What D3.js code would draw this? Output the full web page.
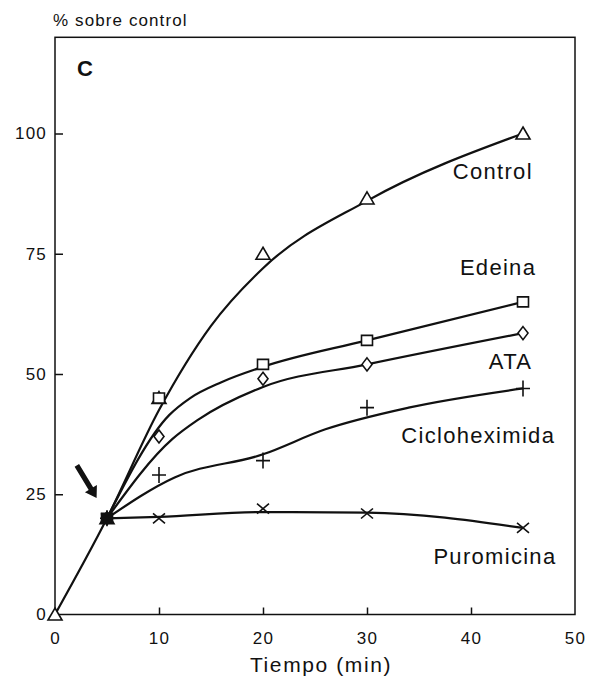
<!DOCTYPE html>
<html>
<head>
<meta charset="utf-8">
<script src="https://cdn.jsdelivr.net/npm/d3@7/dist/d3.min.js"></script>
<style>
  html, body { margin: 0; padding: 0; background: #fff; }
  svg { display: block; }
  text { font-family: "Liberation Sans", Arial, Helvetica, sans-serif; fill: #111; }
</style>
</head>
<body>
<svg id="chart" width="604" height="685"></svg>
<script>
// Tick values
const xTicks = [0, 10, 20, 30, 40, 50];
const yTicks = [0, 25, 50, 75, 100];

// Measured points (time in min, % of control)
const timeCtrl = [0, 5, 10, 20, 30, 45];
const control  = [0, 20, 45, 75, 86.5, 100];
const timeTrt  = [5, 10, 20, 30, 45];
const edeina   = [20, 45, 52, 57, 65];
const ata      = [20, 37, 49, 52, 58.5];
const ciclo    = [20, 29, 32, 43, 47];
const puro     = [20, 20, 22, 21, 18];

// Fitted curves drawn through each series
const fitControl = [[0, 0], [5, 20], [10, 42.5], [15, 60], [20, 72], [30, 86], [45, 100]];
const fitEdeina  = [[5, 20], [11, 41.5], [13, 45], [16, 48.3], [20, 51.5], [30, 57], [45, 65]];
const fitAta     = [[5, 20], [11.3, 36.5], [13.7, 40.4], [20, 47.3], [30, 52], [45, 58.5]];
const fitCiclo   = [[5, 20], [11.5, 28.5], [20, 33.3], [26, 38.5], [34, 43], [45, 47]];
const fitPuro    = [[5, 20], [10, 20.3], [20, 21.3], [30, 21.2], [45, 18]];

// Series names and where their names sit (data units)
const names  = ["Control", "Edeina", "ATA", "Cicloheximida", "Puromicina"];
const labelX = [42.1, 42.6, 43.8, 40.7, 42.3];
const labelY = [92.0, 72.2, 52.5, 37.3, 12.0];

const series = [
  { name: names[0], t: timeCtrl, v: control, fit: fitControl, sym: "triangle" },
  { name: names[1], t: timeTrt,  v: edeina,  fit: fitEdeina,  sym: "square" },
  { name: names[2], t: timeTrt,  v: ata,     fit: fitAta,     sym: "diamond" },
  { name: names[3], t: timeTrt,  v: ciclo,   fit: fitCiclo,   sym: "plus" },
  { name: names[4], t: timeTrt,  v: puro,    fit: fitPuro,    sym: "cross" }
];

const svg = d3.select("#chart");
const x = d3.scaleLinear().domain([0, 50]).range([55, 575]);
const y = d3.scaleLinear().domain([0, 120]).range([614.5, 37.3]);

// Frame
svg.append("rect")
  .attr("x", x(0)).attr("y", y(120))
  .attr("width", x(50) - x(0)).attr("height", y(0) - y(120))
  .attr("fill", "none").attr("stroke", "#111").attr("stroke-width", 1.5);

// Axes with inward ticks
const yAxis = d3.axisLeft(y).tickValues(yTicks).tickSize(-8).tickPadding(8)
  .tickFormat(d3.format("d"));
const gy = svg.append("g").attr("transform", `translate(${x(0)},0)`).call(yAxis);
gy.select(".domain").remove();
gy.selectAll(".tick line").attr("stroke", "#111").attr("stroke-width", 1.5)
  .filter(d => d === 0).remove();
gy.selectAll(".tick text").attr("font-size", 17).attr("letter-spacing", 1.2)
  .attr("font-family", "Liberation Sans, Arial, sans-serif").attr("fill", "#111");

const xAxis = d3.axisBottom(x).tickValues(xTicks).tickSize(-7).tickPadding(17)
  .tickFormat(d3.format("d"));
const gx = svg.append("g").attr("transform", `translate(0,${y(0)})`).call(xAxis);
gx.select(".domain").remove();
gx.selectAll(".tick line").attr("stroke", "#111").attr("stroke-width", 1.5)
  .filter(d => d === 0 || d === 50).remove();
gx.selectAll(".tick text").attr("font-size", 17).attr("letter-spacing", 1.2)
  .attr("font-family", "Liberation Sans, Arial, sans-serif").attr("fill", "#111");

// Axis titles
svg.append("text").attr("x", x(0) - 2).attr("y", 26)
  .attr("font-size", 17).attr("letter-spacing", 1.1)
  .text("% sobre control");
svg.append("text").attr("x", (x(0) + x(50)) / 2 + 6).attr("y", 672)
  .attr("text-anchor", "middle").attr("font-size", 21).attr("letter-spacing", 1.6)
  .text("Tiempo (min)");
svg.append("text").attr("x", 77).attr("y", 76)
  .attr("font-size", 22).attr("font-weight", "bold")
  .text("C");

// Fitted curves
const line = d3.line().x(d => x(d[0])).y(d => y(d[1])).curve(d3.curveMonotoneX);
svg.append("g").selectAll("path").data(series).join("path")
  .attr("d", s => line(s.fit))
  .attr("fill", "none").attr("stroke", "#111").attr("stroke-width", 2.2)
  .attr("stroke-linejoin", "round");

// Marker shapes
function symbolPath(sym) {
  switch (sym) {
    case "triangle": return "M0,-6.5L7,5.5L-7,5.5Z";
    case "square":   return "M-5.5,-5L5.5,-5L5.5,5L-5.5,5Z";
    case "diamond":  return "M0,-6.5L5,0L0,6.5L-5,0Z";
    case "plus":     return "M-7,0L7,0M0,-8L0,8";
    case "cross":    return "M-6,-5L6,5M-6,5L6,-5";
  }
}

const gm = svg.append("g");
series.forEach(s => {
  s.t.forEach((t, i) => {
    const shared = t === 5;  // common addition point, drawn solid
    gm.append("path")
      .attr("transform", `translate(${x(t)},${y(s.v[i])})`)
      .attr("d", symbolPath(s.sym))
      .attr("fill", shared ? "#111" : (s.sym === "plus" || s.sym === "cross" ? "none" : "#fff"))
      .attr("stroke", "#111").attr("stroke-width", 1.6);
  });
});

// Series names
svg.append("g").selectAll("text").data(names).join("text")
  .attr("x", (d, i) => x(labelX[i]))
  .attr("y", (d, i) => y(labelY[i]))
  .attr("text-anchor", "middle").attr("dominant-baseline", "central")
  .attr("font-size", 22).attr("letter-spacing", 1.3)
  .text(d => d);

// Arrow marking the time of addition
const arrowFrom = [2.1, 31];
const arrowTo = [4.0, 24.2];
const ax0 = x(arrowFrom[0]), ay0 = y(arrowFrom[1]);
const ax1 = x(arrowTo[0]), ay1 = y(arrowTo[1]);
const ang = Math.atan2(ay1 - ay0, ax1 - ax0);
const len = Math.hypot(ax1 - ax0, ay1 - ay0);
const g = svg.append("g")
  .attr("transform", `translate(${ax0},${ay0}) rotate(${ang * 180 / Math.PI})`);
g.append("path")
  .attr("d", `M0,-2.6L${len - 11},-2.6L${len - 11},-7L${len},0L${len - 11},7L${len - 11},2.6L0,2.6Z`)
  .attr("fill", "#111");
</script>
</body>
</html>
